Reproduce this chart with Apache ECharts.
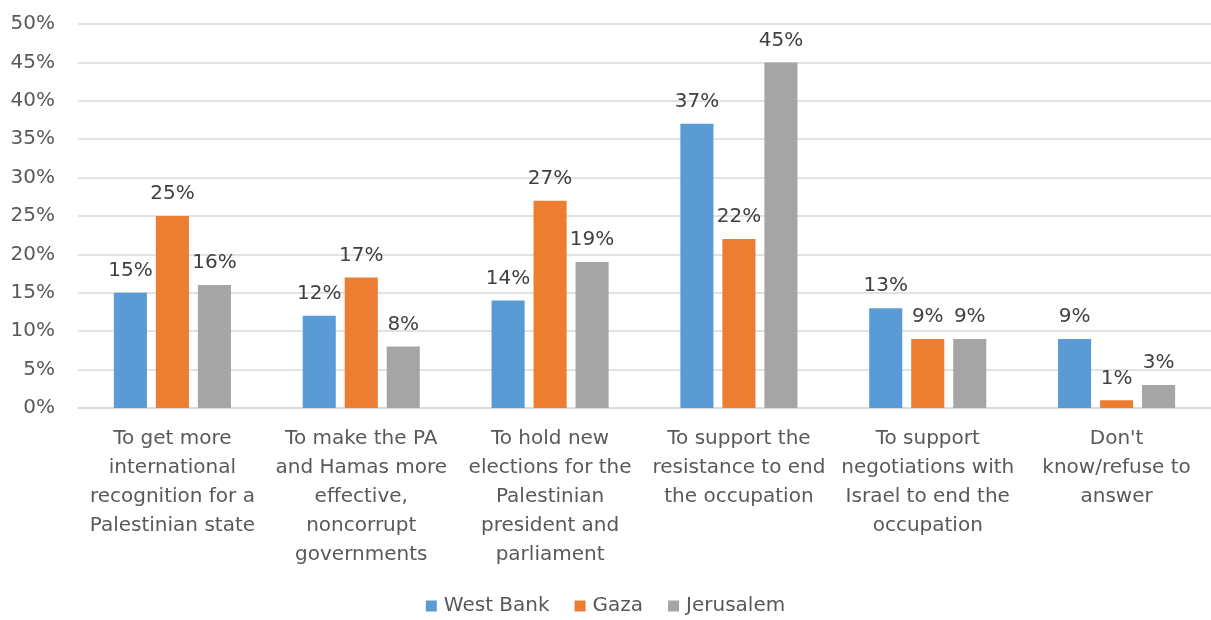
<!DOCTYPE html>
<html><head><meta charset="utf-8">
<script src="https://cdn.jsdelivr.net/npm/echarts@6/dist/echarts.min.js"></script>
<style>html,body{margin:0;padding:0;background:#fff}#c{width:1211px;height:620px}</style>
</head><body><div id="c"></div>
<script>
var categories = [
  "To get more\ninternational\nrecognition for a\nPalestinian state",
  "To make the PA\nand Hamas more\neffective,\nnoncorrupt\ngovernments",
  "To hold new\nelections for the\nPalestinian\npresident and\nparliament",
  "To support the\nresistance to end\nthe occupation",
  "To support\nnegotiations with\nIsrael to end the\noccupation",
  "Don't\nknow/refuse to\nanswer"
];
var westBank = [15, 12, 14, 37, 13, 9];
var gaza = [25, 17, 27, 22, 9, 1];
var jerusalem = [16, 8, 19, 45, 9, 3];
var seriesNames = ["West Bank", "Gaza", "Jerusalem"];
var colors = ["#5B9BD5", "#ED7D31", "#A5A5A5"];

var font = "'DejaVu Sans', sans-serif";
function mk(name, data, color) {
  return {
    name: name, type: 'bar', data: data,
    barGap: '27%', barCategoryGap: '38%',
    itemStyle: { color: color },
    label: { show: true, position: 'top', distance: 12, formatter: '{c}%',
      fontFamily: font, fontSize: 20, color: '#404040' }
  };
}
var chart = echarts.init(document.getElementById('c'), null, {renderer: 'canvas'});
chart.setOption({
  animation: false,
  color: colors,
  grid: { left: 78, right: 0, top: 24, bottom: 212, containLabel: false },
  legend: {
    top: 591, left: 'center', itemWidth: 11, itemHeight: 11, itemGap: 25,
    icon: 'rect',
    textStyle: { fontFamily: font, fontSize: 20, color: '#595959', padding: [0,0,0,2] },
    data: seriesNames
  },
  xAxis: {
    type: 'category', data: categories,
    axisLine: { show: true, lineStyle: { color: '#D9D9D9', width: 1.5 } },
    axisTick: { show: false },
    axisLabel: { interval: 0, margin: 16, fontFamily: font, fontSize: 20, lineHeight: 29, color: '#595959' }
  },
  yAxis: {
    type: 'value', min: 0, max: 50, interval: 5,
    axisLine: { show: false }, axisTick: { show: false },
    splitLine: { lineStyle: { color: '#D9D9D9', width: 1.5 } },
    axisLabel: { formatter: '{value}%', margin: 23, fontFamily: font, fontSize: 20, color: '#595959' }
  },
  series: [mk(seriesNames[0], westBank, colors[0]), mk(seriesNames[1], gaza, colors[1]), mk(seriesNames[2], jerusalem, colors[2])]
});
</script></body></html>
